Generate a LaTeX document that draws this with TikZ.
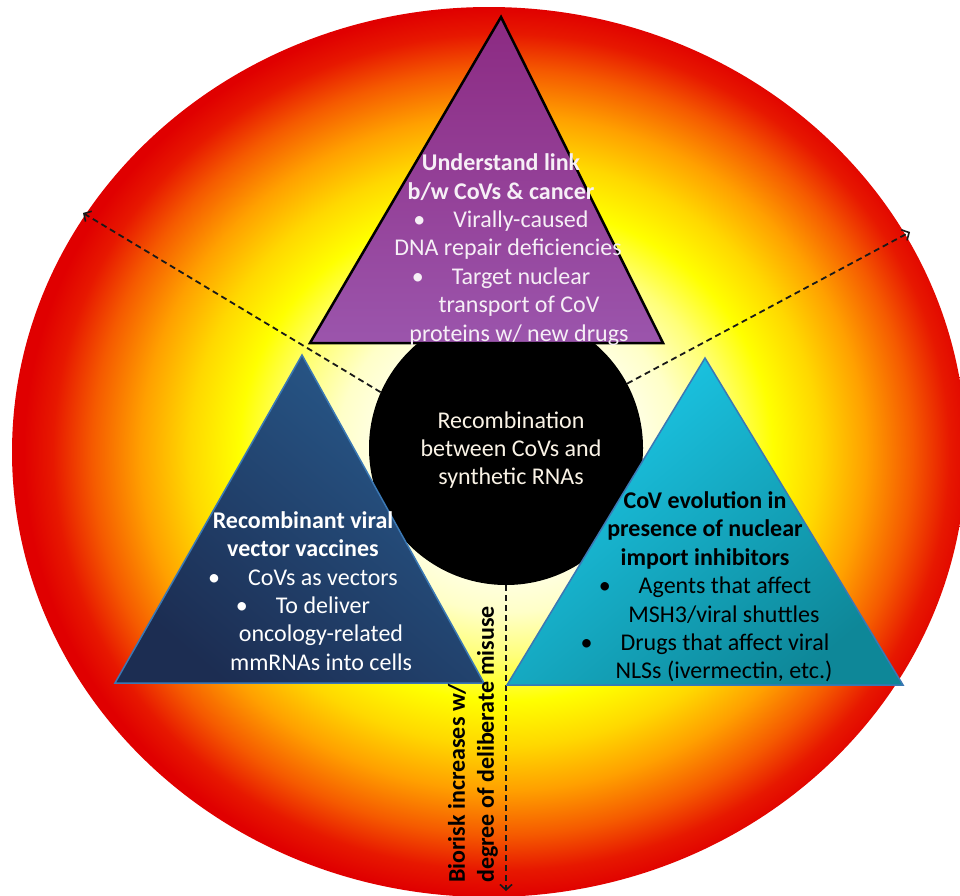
\documentclass[tikz,border=0pt]{standalone}
\usepackage{fontspec}
\setmainfont{Carlito}
\usetikzlibrary{arrows.meta}

% heat-map colours of the backdrop, from the pale centre to the red rim
\definecolor{heat0}{HTML}{FFFFFF}
\definecolor{heat1}{HTML}{FFFFF0}
\definecolor{heat2}{HTML}{FFFFC8}
\definecolor{heat3}{HTML}{FFFF78}
\definecolor{heat4}{HTML}{FFFF00}
\definecolor{heat5}{HTML}{FFD800}
\definecolor{heat6}{HTML}{FFA000}
\definecolor{heat7}{HTML}{F55A00}
\definecolor{heat8}{HTML}{E71800}
\definecolor{heat9}{HTML}{E00000}

\definecolor{plumTop}{HTML}{8C2A82}
\definecolor{plumMid}{HTML}{944190}
\definecolor{plumBot}{HTML}{9B55AC}
\definecolor{navyLight}{HTML}{285A8C}
\definecolor{navyDark}{HTML}{1C2D52}
\definecolor{cyanLight}{HTML}{1CCAEA}
\definecolor{tealDark}{HTML}{0E8798}
\definecolor{rimBlue}{HTML}{3B78B4}
\definecolor{paleText}{HTML}{F6EFF6}
\definecolor{creamText}{HTML}{FAF3E6}

\pgfdeclareradialshading{heatglow}{\pgfpoint{1.2bp}{0bp}}{%
  color(0bp)=(heat0); color(6bp)=(heat1); color(9bp)=(heat2);
  color(11.5bp)=(heat3); color(14bp)=(heat4); color(16.5bp)=(heat5);
  color(19bp)=(heat6); color(21.5bp)=(heat7); color(23.5bp)=(heat8);
  color(25bp)=(heat9); color(50bp)=(heat9)}

\tikzset{
  bodytext/.style={align=center, inner sep=0pt,
    font=\fontsize{24}{28.4}\selectfont},
  riskarrow/.style={draw=black!90, line width=1.8pt,
    dash pattern=on 6pt off 4pt,
    -{Straight Barb[length=5.5pt,width=12pt,line width=1.6pt]}},
  plumtri/.style={draw=black, line width=2.5pt, line join=miter,
    top color=plumTop, middle color=plumMid, bottom color=plumBot},
  navytri/.style={draw=rimBlue, line width=1.5pt,
    top color=navyLight, bottom color=navyDark, shading angle=-40},
  cyantri/.style={draw=rimBlue, line width=1.5pt,
    top color=cyanLight, bottom color=tealDark, shading angle=40},
}

\begin{document}
\begin{tikzpicture}[x=1pt, y=-1pt]
\useasboundingbox (0,0) rectangle (960,895);

% backdrop: radial heat map
\shade[shading=heatglow] (489,452) ellipse [x radius=477pt, y radius=445pt];

% central hub
\node[circle, fill=black, minimum size=274pt, inner sep=0pt] (core) at (506,448) {};

% outward dashed arrows
\coordinate (ulEnd) at (83,213);
\coordinate (urEnd) at (910,232);
\coordinate (dnEnd) at (506,891);
\draw[riskarrow] (core.156) -- (ulEnd);
\draw[riskarrow] (core.28) -- (urEnd);
\draw[riskarrow] (core.south) -- (dnEnd);

% three triangles
\coordinate (tA) at (501,17);  \coordinate (tB) at (310,343); \coordinate (tC) at (663,343);
\coordinate (lA) at (302,355); \coordinate (lB) at (115,683); \coordinate (lC) at (484,683);
\coordinate (rA) at (705,358); \coordinate (rB) at (507,685); \coordinate (rC) at (903,685);
\path[plumtri] (tA) -- (tB) -- (tC) -- cycle;
\path[navytri] (lA) -- (lB) -- (lC) -- cycle;
\path[cyantri] (rA) -- (rB) -- (rC) -- cycle;

% texts
\node[bodytext, text=creamText] (coreText) at (511,450)
  {Recombination\\between CoVs and\\synthetic RNAs};

\node[bodytext, text=paleText] (topText) at (501,249.5)
  {\textbf{Understand link}\\
   \textbf{b/w CoVs \& cancer}\\
   \textbullet\hspace{28pt}Virally-caused\\
   \hspace*{14pt}DNA repair deficiencies\\
   \textbullet\hspace{28pt}Target nuclear\\
   \hspace*{36pt}transport of CoV\\
   \hspace*{36pt}proteins w/ new drugs};

\node[bodytext, text=white] (leftText) at (303,591)
  {\textbf{Recombinant viral}\\
   \textbf{vector vaccines}\\
   \textbullet\hspace{28pt}CoVs as vectors\\
   \textbullet\hspace{28pt}To deliver\\
   \hspace*{36pt}oncology-related\\
   \hspace*{36pt}mmRNAs into cells};

\node[bodytext, text=black] (rightText) at (705,587)
  {\textbf{CoV evolution in}\\
   \textbf{presence of nuclear}\\
   \textbf{import inhibitors}\\
   \textbullet\hspace{28pt}Agents that affect\\
   \hspace*{38pt}MSH3/viral shuttles\\
   \textbullet\hspace{28pt}Drugs that affect viral\\
   \hspace*{38pt}NLSs (ivermectin, etc.)};

\node[rotate=90, anchor=west, align=left, inner sep=0pt,
      font=\fontsize{24}{29}\selectfont\bfseries] (riskText) at (473,883)
  {Biorisk increases w/\\degree of deliberate misuse};
\end{tikzpicture}
\end{document}
